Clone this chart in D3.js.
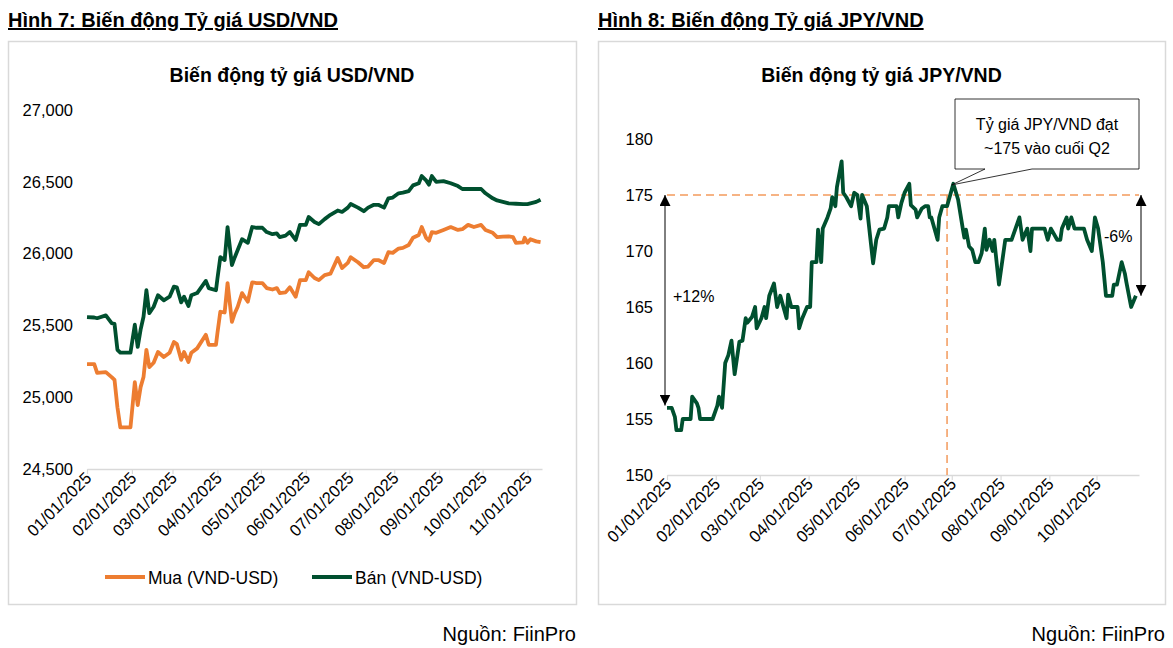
<!DOCTYPE html>
<html>
<head>
<meta charset="utf-8">
<script src="https://cdn.jsdelivr.net/npm/d3@7"></script>
<style>
  body { margin: 0; background: #fff; }
  svg text { font-family: "Liberation Sans", Arial, sans-serif; fill: #000; }
</style>
</head>
<body>
<div id="chart"></div>
<script>
// USD/VND (Mua / Bán)
const usdDates = [
  "2025-01-01","2025-01-06","2025-01-08","2025-01-14","2025-01-18","2025-01-20","2025-01-22","2025-01-24","2025-01-31",
  "2025-02-03","2025-02-05","2025-02-07","2025-02-09","2025-02-11","2025-02-13","2025-02-16","2025-02-19","2025-02-23","2025-02-27",
  "2025-03-02","2025-03-04","2025-03-07","2025-03-09","2025-03-12","2025-03-14","2025-03-18","2025-03-24","2025-03-26","2025-03-31",
  "2025-04-01","2025-04-03","2025-04-06","2025-04-08","2025-04-11","2025-04-13","2025-04-15","2025-04-18","2025-04-22","2025-04-25","2025-04-28",
  "2025-05-02","2025-05-05","2025-05-09","2025-05-12","2025-05-14","2025-05-18","2025-05-21","2025-05-25","2025-05-28",
  "2025-06-01","2025-06-03","2025-06-07","2025-06-10","2025-06-14","2025-06-18","2025-06-23","2025-06-26","2025-06-30",
  "2025-07-02","2025-07-07","2025-07-11","2025-07-14","2025-07-18","2025-07-21","2025-07-25","2025-07-28","2025-07-31",
  "2025-08-04","2025-08-07","2025-08-11","2025-08-14","2025-08-18","2025-08-20","2025-08-23","2025-08-25","2025-08-27","2025-08-30",
  "2025-09-04","2025-09-09","2025-09-14","2025-09-17","2025-09-21","2025-09-25","2025-09-30",
  "2025-10-03","2025-10-08","2025-10-11","2025-10-15","2025-10-19","2025-10-22","2025-10-24","2025-10-29","2025-10-30",
  "2025-11-01","2025-11-03","2025-11-07","2025-11-10"
];
const usdSell = [
  25558,25555,25550,25570,25515,25510,25330,25310,25310,
  25505,25350,25470,25560,25745,25585,25630,25710,25675,25700,
  25770,25765,25660,25700,25635,25710,25725,25810,25760,25745,
  25825,25975,25955,26185,25920,25975,26025,26100,26075,26185,26180,
  26180,26150,26135,26140,26115,26125,26150,26095,26200,
  26200,26255,26220,26205,26240,26270,26300,26290,26320,
  26345,26320,26295,26320,26340,26340,26320,26385,26390,
  26420,26425,26435,26475,26490,26540,26510,26480,26540,26500,
  26505,26490,26470,26450,26450,26450,26450,
  26420,26385,26370,26360,26350,26348,26347,26345,26345,
  26345,26350,26360,26375
];
const usdBuy = [
  25231,25230,25170,25175,25140,25120,24930,24790,24790,
  25105,24945,25070,25140,25330,25210,25240,25315,25280,25310,
  25385,25370,25260,25315,25245,25310,25340,25435,25365,25365,
  25445,25595,25590,25795,25525,25585,25630,25725,25665,25800,25795,
  25795,25760,25750,25760,25725,25730,25765,25700,25815,
  25815,25870,25830,25815,25850,25860,25970,25900,25935,
  25975,25940,25905,25910,25955,25955,25935,26010,26005,
  26035,26040,26060,26110,26130,26185,26110,26090,26150,26145,
  26165,26185,26165,26170,26200,26185,26200,
  26165,26145,26115,26118,26120,26115,26075,26078,26110,
  26075,26100,26085,26080
];
const usdTicks = [24500, 25000, 25500, 26000, 26500, 27000];

// JPY/VND
const jpyDates = [
  "2025-01-01","2025-01-04","2025-01-06","2025-01-07","2025-01-10","2025-01-11","2025-01-16","2025-01-17","2025-01-20","2025-01-21","2025-01-22","2025-01-30",
  "2025-02-02","2025-02-03","2025-02-05","2025-02-07","2025-02-09","2025-02-11","2025-02-13","2025-02-16","2025-02-18","2025-02-20","2025-02-21","2025-02-24","2025-02-26","2025-02-27",
  "2025-03-02","2025-03-04","2025-03-05","2025-03-07","2025-03-10","2025-03-12","2025-03-14","2025-03-16","2025-03-18","2025-03-19","2025-03-21","2025-03-25","2025-03-26","2025-03-28","2025-03-31",
  "2025-04-02","2025-04-03","2025-04-06","2025-04-07","2025-04-09","2025-04-10","2025-04-13","2025-04-15","2025-04-16","2025-04-18","2025-04-19","2025-04-22","2025-04-23","2025-04-25","2025-04-28","2025-04-30",
  "2025-05-02","2025-05-04","2025-05-05","2025-05-08","2025-05-12","2025-05-14","2025-05-16","2025-05-19","2025-05-21","2025-05-22","2025-05-27","2025-05-28","2025-05-30",
  "2025-06-01","2025-06-04","2025-06-05","2025-06-08","2025-06-09","2025-06-12","2025-06-14","2025-06-16","2025-06-17","2025-06-18","2025-06-22","2025-06-23","2025-06-25","2025-06-28",
  "2025-07-02","2025-07-05","2025-07-08","2025-07-09","2025-07-10","2025-07-12","2025-07-14","2025-07-16","2025-07-18","2025-07-20","2025-07-22","2025-07-23","2025-07-25","2025-07-27","2025-07-28","2025-07-31",
  "2025-08-04","2025-08-08","2025-08-13","2025-08-15","2025-08-18","2025-08-20","2025-08-21","2025-08-25","2025-08-29","2025-08-31",
  "2025-09-02","2025-09-06","2025-09-08","2025-09-09","2025-09-12","2025-09-13","2025-09-15","2025-09-17","2025-09-23","2025-09-25","2025-09-28","2025-09-30",
  "2025-10-02","2025-10-05","2025-10-07","2025-10-11","2025-10-12","2025-10-14","2025-10-17","2025-10-19","2025-10-20","2025-10-23","2025-10-26"
];
const jpyRate = [
  156,156,155.2,154,154,155,155,157,156.4,156,155,155,
  156.2,157,156,160,160.7,162,159,161.9,162,164,163.6,164.1,165,163.1,
  164,165,164,166,167.1,165,166,165,164,166.1,165,165,163.1,164,165,
  165,169,169,171.9,169,172,173,173.8,174.8,174,175.7,178,175.2,174.8,174,175.2,
  175,172.9,175,174,168.9,171,171.9,172,173,174,174,173,174.3,
  175.2,176,174.1,173.7,173,173.8,174,174,173,173,171,173,174,174,
  176,174.6,172,171.2,171.9,170.4,170.1,169,169,169.8,172,170.1,171,170,171,167,
  171,171,173,171,172,170,172,172,172,171,
  172,171,171,172,173,172,173,172,172,171,170,173,
  172,169,166,166,167,167,169,168,167.2,165,166
];
const jpyTicks = [150, 155, 160, 165, 170, 175, 180];

const orange = '#ED7D31';
const green = '#00502F';
const dashOrange = '#F39A5C';
const gridGray = '#d9d9d9';

const parse = d3.utcParse('%Y-%m-%d');
const fmtDate = d3.utcFormat('%m/%d/%Y');

const usd = usdDates.map((d, i) => ({ date: parse(d), buy: usdBuy[i], sell: usdSell[i] }));
const jpy = jpyDates.map((d, i) => ({ date: parse(d), value: jpyRate[i] }));

const svg = d3.select('#chart')
  .append('svg')
  .attr('width', 1173)
  .attr('height', 648);

// frames, figure titles and source
function frame(x0, x1, figTitle, chartTitle) {
  svg.append('rect')
    .attr('x', x0 + 0.5).attr('y', 41.5)
    .attr('width', x1 - x0).attr('height', 563)
    .attr('fill', 'none')
    .attr('stroke', gridGray)
    .attr('stroke-width', 1.5);
  svg.append('text')
    .attr('x', x0).attr('y', 27)
    .style('font-size', '20px')
    .style('font-weight', 'bold')
    .style('text-decoration', 'underline')
    .text(figTitle);
  svg.append('text')
    .attr('x', (x0 + x1) / 2).attr('y', 82)
    .attr('text-anchor', 'middle')
    .style('font-size', '19.5px')
    .style('font-weight', 'bold')
    .text(chartTitle);
  svg.append('text')
    .attr('x', x1).attr('y', 641)
    .attr('text-anchor', 'end')
    .style('font-size', '20px')
    .text('Nguồn: FiinPro');
}

function axes(x, y, yTicks, yFormat, lastMonth) {
  const months = d3.utcMonth.range(x.domain()[0], lastMonth);
  const xAxis = d3.axisBottom(x)
    .tickValues(months)
    .tickSize(5)
    .tickSizeOuter(0)
    .tickFormat(fmtDate);
  const gx = svg.append('g')
    .attr('transform', `translate(0, ${y.range()[0]})`)
    .call(xAxis);
  gx.select('.domain').attr('stroke', gridGray).attr('stroke-width', 1.5);
  gx.selectAll('.tick line').attr('stroke', gridGray).attr('stroke-width', 1.2);
  gx.selectAll('.tick text')
    .attr('x', 0).attr('y', 0).attr('dy', 0)
    .attr('text-anchor', 'end')
    .attr('transform', 'translate(5, 10) rotate(-45)')
    .style('font-size', '16.5px');

  const gy = svg.append('g')
    .attr('transform', `translate(${x.range()[0]}, 0)`)
    .call(d3.axisLeft(y).tickValues(yTicks).tickSize(0).tickPadding(14).tickFormat(yFormat));
  gy.select('.domain').remove();
  gy.selectAll('.tick text').style('font-size', '16.5px');
}

// ---------- Hình 7: USD/VND ----------
frame(8, 576, 'Hình 7: Biến động Tỷ giá USD/VND', 'Biến động tỷ giá USD/VND');

const xL = d3.scaleUtc().domain([parse('2025-01-01'), parse('2025-11-11')]).range([87, 542]);
const yL = d3.scaleLinear().domain([24500, 27000]).range([469, 110]);
axes(xL, yL, usdTicks, d3.format(','), parse('2025-11-02'));

svg.append('path')
  .datum(usd)
  .attr('fill', 'none')
  .attr('stroke', orange)
  .attr('stroke-width', 3.8)
  .attr('stroke-linejoin', 'round')
  .attr('d', d3.line().x(d => xL(d.date)).y(d => yL(d.buy)));

svg.append('path')
  .datum(usd)
  .attr('fill', 'none')
  .attr('stroke', green)
  .attr('stroke-width', 3.8)
  .attr('stroke-linejoin', 'round')
  .attr('d', d3.line().x(d => xL(d.date)).y(d => yL(d.sell)));

// legend
const legend = svg.append('g').attr('transform', 'translate(0, 577)');
[['Mua (VND-USD)', orange, 105], ['Bán (VND-USD)', green, 312]].forEach(([name, color, lx]) => {
  legend.append('line')
    .attr('x1', lx).attr('x2', lx + 40)
    .attr('stroke', color)
    .attr('stroke-width', 4);
  legend.append('text')
    .attr('x', lx + 43).attr('y', 6.5)
    .style('font-size', '17.5px')
    .text(name);
});

// ---------- Hình 8: JPY/VND ----------
frame(598, 1165, 'Hình 8: Biến động Tỷ giá JPY/VND', 'Biến động tỷ giá JPY/VND');

const xR = d3.scaleUtc().domain([parse('2025-01-01'), parse('2025-10-28')]).range([667, 1139]);
const yR = d3.scaleLinear().domain([150, 180]).range([475, 139]);
axes(xR, yR, jpyTicks, d3.format('d'), parse('2025-10-02'));

// reference lines at 175 and end of Q2
svg.append('line')
  .attr('x1', xR.range()[0]).attr('x2', xR.range()[1])
  .attr('y1', yR(175)).attr('y2', yR(175))
  .attr('stroke', dashOrange)
  .attr('stroke-width', 1.5)
  .attr('stroke-dasharray', '8,5');
svg.append('line')
  .attr('x1', xR(parse('2025-06-28'))).attr('x2', xR(parse('2025-06-28')))
  .attr('y1', yR(175)).attr('y2', yR(150))
  .attr('stroke', dashOrange)
  .attr('stroke-width', 1.5)
  .attr('stroke-dasharray', '8,5');

svg.append('path')
  .datum(jpy)
  .attr('fill', 'none')
  .attr('stroke', green)
  .attr('stroke-width', 3.8)
  .attr('stroke-linejoin', 'round')
  .attr('d', d3.line().x(d => xR(d.date)).y(d => yR(d.value)));

// double arrows
svg.append('defs').append('marker')
  .attr('id', 'tri')
  .attr('viewBox', '0 0 10 10')
  .attr('refX', 10).attr('refY', 5)
  .attr('markerUnits', 'userSpaceOnUse')
  .attr('markerWidth', 11).attr('markerHeight', 11)
  .attr('orient', 'auto-start-reverse')
  .append('path')
  .attr('d', 'M0,0 L10,5 L0,10 Z')
  .attr('fill', '#000');

function dblArrow(ax, v0, v1) {
  svg.append('line')
    .attr('x1', ax).attr('x2', ax)
    .attr('y1', yR(v0)).attr('y2', yR(v1))
    .attr('stroke', '#000')
    .attr('stroke-width', 1)
    .attr('marker-start', 'url(#tri)')
    .attr('marker-end', 'url(#tri)');
}
dblArrow(665, 175, 156.2);
dblArrow(1141, 175, 166);

svg.append('text')
  .attr('x', 673).attr('y', 302)
  .style('font-size', '16px')
  .text('+12%');
svg.append('text')
  .attr('x', 1104).attr('y', 242)
  .style('font-size', '16px')
  .text('-6%');

// callout
const tipX = xR(parse('2025-07-01'));
const tipY = yR(175.9);
svg.append('path')
  .attr('d', `M955,99 H1139 V169 H1032 L${tipX},${tipY} L985,169 H955 Z`)
  .attr('fill', '#fff')
  .attr('stroke', '#000')
  .attr('stroke-width', 0.8);
svg.append('text')
  .attr('x', 1047).attr('y', 130)
  .attr('text-anchor', 'middle')
  .style('font-size', '16px')
  .text('Tỷ giá JPY/VND đạt');
svg.append('text')
  .attr('x', 1047).attr('y', 154)
  .attr('text-anchor', 'middle')
  .style('font-size', '16px')
  .text('~175 vào cuối Q2');
</script>
</body>
</html>
